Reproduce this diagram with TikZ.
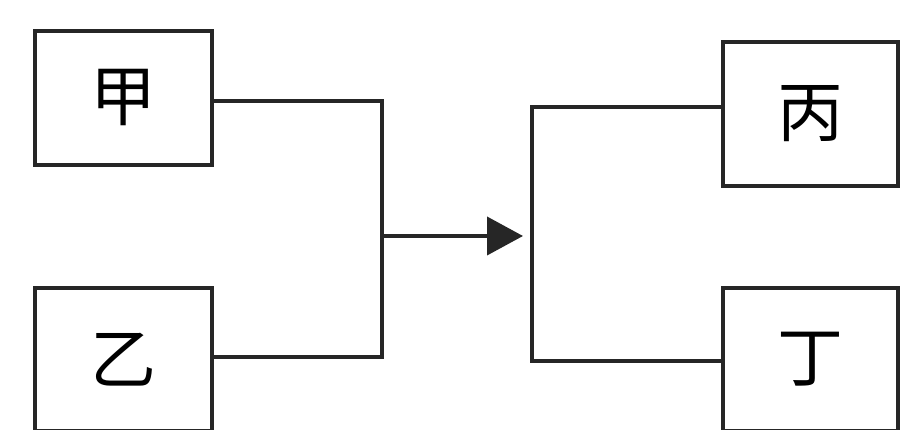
\documentclass[tikz,border=0pt]{standalone}
\usepackage{fontspec}
\newfontfamily\cjk{Noto Sans CJK SC}
\usetikzlibrary{arrows.meta}
\begin{document}
\begin{tikzpicture}[x=1pt,y=1pt,
  box/.style={draw=black!85, line width=4pt, minimum width=177pt, inner sep=0pt, font=\cjk\fontsize{66}{66}\selectfont},
  wire/.style={draw=black!85, line width=4pt}]
\useasboundingbox (0,0) rectangle (902,430);
\clip (0,0) rectangle (902,430);
\fill[white] (0,0) rectangle (902,430);
\node[box, minimum height=134pt] (jia) at (123.5,332) {甲};
\node[box, minimum height=143pt] (yi) at (123.5,70.5) {乙};
\node[box, minimum width=175pt, minimum height=144pt] (bing) at (810.5,316) {丙};
\node[box, minimum width=175pt, minimum height=143pt] (ding) at (810.5,70.5) {丁};
\coordinate (jl) at (382,194);
\coordinate (jr) at (532,194);
\draw[wire, line join=miter] ([yshift=-3pt]jia.east) -| (jl) |- ([yshift=2.5pt]yi.east);
\draw[wire, line join=miter] ([yshift=7pt]bing.west) -| (jr) |- ([yshift=-2pt]ding.west);
\draw[wire, -{Triangle[length=36pt,width=38pt]}] (jl) -- ([xshift=-9pt]jr);
\end{tikzpicture}
\end{document}
